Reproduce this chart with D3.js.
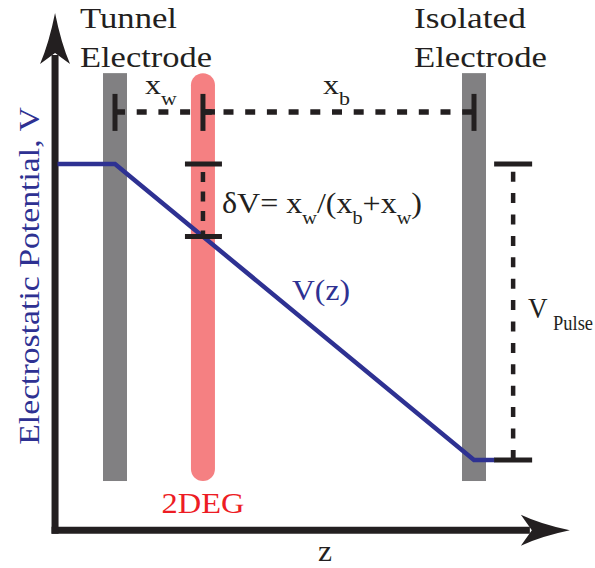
<!DOCTYPE html>
<html>
<head>
<meta charset="utf-8">
<script src="https://cdn.jsdelivr.net/npm/d3@7"></script>
<style>
  html, body { margin: 0; padding: 0; background: #fff; }
  svg { display: block; }
</style>
</head>
<body>
<svg id="chart" width="595" height="568"></svg>
<script>
// Positions along z: tunnel electrode at 0, isolated electrode at 1.
const electrodeZ = [0, 1];
const electrodeTitles = [["Tunnel", "Electrode"], ["Isolated", "Electrode"]];
const wellZ = 0.245;                       // 2DEG position, x_w / (x_b + x_w)
// Electrostatic potential V(z), normalised to the pulse amplitude.
const potentialZ = [-0.16, 0, 1, 1.058];
const potentialV = [1, 1, 0, 0];
const pulseZ = 1.109;                      // where the V_Pulse bracket sits
const zExtent = [-0.167, 1.267];           // horizontal axis
const vExtent = [-0.237, 1.510];           // vertical axis
const barV = [-0.071, 1.307];              // vertical extent of electrodes / 2DEG
const spacingV = 1.176;                    // height of the x_w / x_b dimension line

const INK = "#231f20", BLUE = "#2e3192", GREY = "#818082",
      PINK = "#f58082", RED = "#ed1c24";

// pick the first installed serif face (compare against a monospace fallback)
function installed(name) {
  const ctx = document.createElement("canvas").getContext("2d");
  const s = "Electrostatic Potential 2DEG Wy";
  ctx.font = "40px monospace";
  const a = ctx.measureText(s).width;
  ctx.font = `40px "${name}", monospace`;
  return ctx.measureText(s).width !== a;
}
const serifChoices = [["Liberation Serif", 0.662], ["DejaVu Serif", 0.729],
                      ["Noto Serif", 0.714]];
const pick = serifChoices.find(([n]) => installed(n)) || ["serif", 0.7];
const FONT = `"${pick[0]}", serif`;
const FS = 20 / pick[1];                   // main text: 20px cap height
const SUB = FS * 0.63;

const svg = d3.select("#chart");
const z = d3.scaleLinear().domain([0, 1]).range([115, 474]);
const v = d3.scaleLinear().domain([0, 1]).range([460, 164]);

// ---- electrodes and 2DEG layer ----
const barW = 24;
svg.selectAll("rect.electrode").data(electrodeZ).join("rect")
  .attr("class", "electrode")
  .attr("x", d => z(d) - barW / 2).attr("width", barW)
  .attr("y", v(barV[1])).attr("height", v(barV[0]) - v(barV[1]))
  .attr("fill", GREY);

svg.append("rect")
  .attr("x", z(wellZ) - barW / 2).attr("width", barW)
  .attr("y", v(barV[1])).attr("height", v(barV[0]) - v(barV[1]))
  .attr("rx", barW / 2).attr("ry", barW / 2)
  .attr("fill", PINK);

// ---- axes with arrowheads ----
const x0 = z(zExtent[0]), y0 = v(vExtent[0]);
const xTip = z(zExtent[1]), yTip = v(vExtent[1]);
const axisW = 7;
svg.append("line")
  .attr("x1", x0 - axisW / 2).attr("x2", xTip - 40)
  .attr("y1", y0).attr("y2", y0)
  .attr("stroke", INK).attr("stroke-width", axisW);
svg.append("line")
  .attr("x1", x0).attr("x2", x0)
  .attr("y1", y0 + axisW / 2).attr("y2", yTip + 42)
  .attr("stroke", INK).attr("stroke-width", axisW);

const upHead = d3.path();
upHead.moveTo(x0, yTip);
upHead.quadraticCurveTo(x0 + 6, yTip + 30, x0 + 15, yTip + 51);
upHead.lineTo(x0, yTip + 40);
upHead.lineTo(x0 - 15, yTip + 51);
upHead.quadraticCurveTo(x0 - 6, yTip + 30, x0, yTip);
upHead.closePath();
svg.append("path").attr("d", upHead.toString()).attr("fill", INK);

const rightHead = d3.path();
rightHead.moveTo(xTip, y0);
rightHead.quadraticCurveTo(xTip - 29, y0 - 6, xTip - 49, y0 - 15.5);
rightHead.lineTo(xTip - 38, y0);
rightHead.lineTo(xTip - 49, y0 + 15.5);
rightHead.quadraticCurveTo(xTip - 29, y0 + 6, xTip, y0);
rightHead.closePath();
svg.append("path").attr("d", rightHead.toString()).attr("fill", INK);

// ---- x_w / x_b dimension line ----
const yDim = v(spacingV);
svg.append("line")
  .attr("x1", z(0)).attr("x2", z(1)).attr("y1", yDim).attr("y2", yDim)
  .attr("stroke", INK).attr("stroke-width", 5.5)
  .attr("stroke-dasharray", "10,11.7");
svg.selectAll("line.dimtick").data([0, wellZ, 1]).join("line")
  .attr("class", "dimtick")
  .attr("x1", d => z(d)).attr("x2", d => z(d))
  .attr("y1", yDim - 18).attr("y2", yDim + 19)
  .attr("stroke", INK).attr("stroke-width", 5);
svg.append("line")
  .attr("x1", z(wellZ)).attr("x2", z(wellZ) + 12).attr("y1", yDim).attr("y2", yDim)
  .attr("stroke", INK).attr("stroke-width", 5.5);

// ---- potential profile V(z) ----
const potential = potentialZ.map((d, i) => [d, potentialV[i]]);
svg.append("path")
  .attr("d", d3.line().x(d => z(d[0])).y(d => v(d[1]))(potential))
  .attr("fill", "none").attr("stroke", BLUE).attr("stroke-width", 4.5)
  .attr("stroke-linejoin", "miter");

// ---- δV bracket at the 2DEG ----
const dVtop = v(1), dVbot = v(1 - wellZ);
svg.append("line")
  .attr("x1", z(wellZ)).attr("x2", z(wellZ)).attr("y1", dVtop).attr("y2", dVbot)
  .attr("stroke", INK).attr("stroke-width", 4.5)
  .attr("stroke-dasharray", "10,9.5").attr("stroke-dashoffset", 11.5);
svg.selectAll("line.dVtick").data([dVtop, dVbot]).join("line")
  .attr("class", "dVtick")
  .attr("x1", z(wellZ) - 18).attr("x2", z(wellZ) + 19)
  .attr("y1", d => d).attr("y2", d => d)
  .attr("stroke", INK).attr("stroke-width", 5);

// ---- V_Pulse bracket ----
const xp = z(pulseZ);
svg.append("line")
  .attr("x1", xp).attr("x2", xp).attr("y1", v(1)).attr("y2", v(0))
  .attr("stroke", INK).attr("stroke-width", 4.5)
  .attr("stroke-dasharray", "10,11.4").attr("stroke-dashoffset", 13.7);
svg.selectAll("line.ptick").data([1, 0]).join("line")
  .attr("class", "ptick")
  .attr("x1", xp - 19).attr("x2", xp + 19)
  .attr("y1", d => v(d)).attr("y2", d => v(d))
  .attr("stroke", INK).attr("stroke-width", 5);
svg.append("line")
  .attr("x1", xp).attr("x2", xp).attr("y1", v(0) - 10).attr("y2", v(0))
  .attr("stroke", INK).attr("stroke-width", 4.5);

// ---- text ----
// place a text at (x, y) and stretch it horizontally to the given width;
// parts are [string, isSubscript] runs
function label(x, y, width, opts = {}) {
  const subSize = opts.subSize || SUB;
  const drop = opts.drop || FS * 0.36;
  const t = svg.append("text")
    .attr("font-family", FONT).attr("font-size", opts.size || FS)
    .attr("fill", opts.color || INK)
    .attr("text-anchor", opts.anchor || "start");
  if (opts.text) t.text(opts.text);
  let low = false;
  if (opts.parts) opts.parts.forEach(([s, sub]) => {
    t.append("tspan").attr("font-size", sub ? subSize : null)
      .attr("dy", sub && !low ? drop : (!sub && low ? -drop : null))
      .text(s);
    low = !!sub;
  });
  const w = t.node().getBBox().width;
  const sx = w > 0 ? width / w : 1;
  t.attr("transform", `translate(${x},${y})${opts.rotate ? ` rotate(${opts.rotate})` : ""} scale(${sx},1)`);
  return t;
}

electrodeTitles.forEach((lines, i) => {
  const left = i === 0 ? z(electrodeZ[i]) - 35 : z(electrodeZ[i]) - 60;
  const widths = i === 0 ? [97, 132] : [112, 133];
  lines.forEach((s, j) => label(left, 28 + j * 39, widths[j], { text: s }));
});

label(145, 94, 32, { parts: [["x"], ["w", true]], size: FS * 0.92 });
label(323, 94, 27, { parts: [["x"], ["b", true]], size: FS * 0.92 });

label(222, 213, 200, { parts: [["δV= x"], ["w", true], ["/(x"], ["b", true], ["+x"], ["w", true], [")"]] });

label(292, 300, 58, { text: "V(z)", color: BLUE });

label(528, 318, 65, { parts: [["V\u2009"], ["Pulse", true]], subSize: FS * 0.68, drop: 12 });

label(z(wellZ), 513, 83, { text: "2DEG", color: RED, anchor: "middle" });

label(325, 561, 14, { text: "z", anchor: "middle" });

label(39, 276, 338, { text: "Electrostatic Potential, V", color: BLUE,
                      anchor: "middle", rotate: -90 });
</script>
</body>
</html>
